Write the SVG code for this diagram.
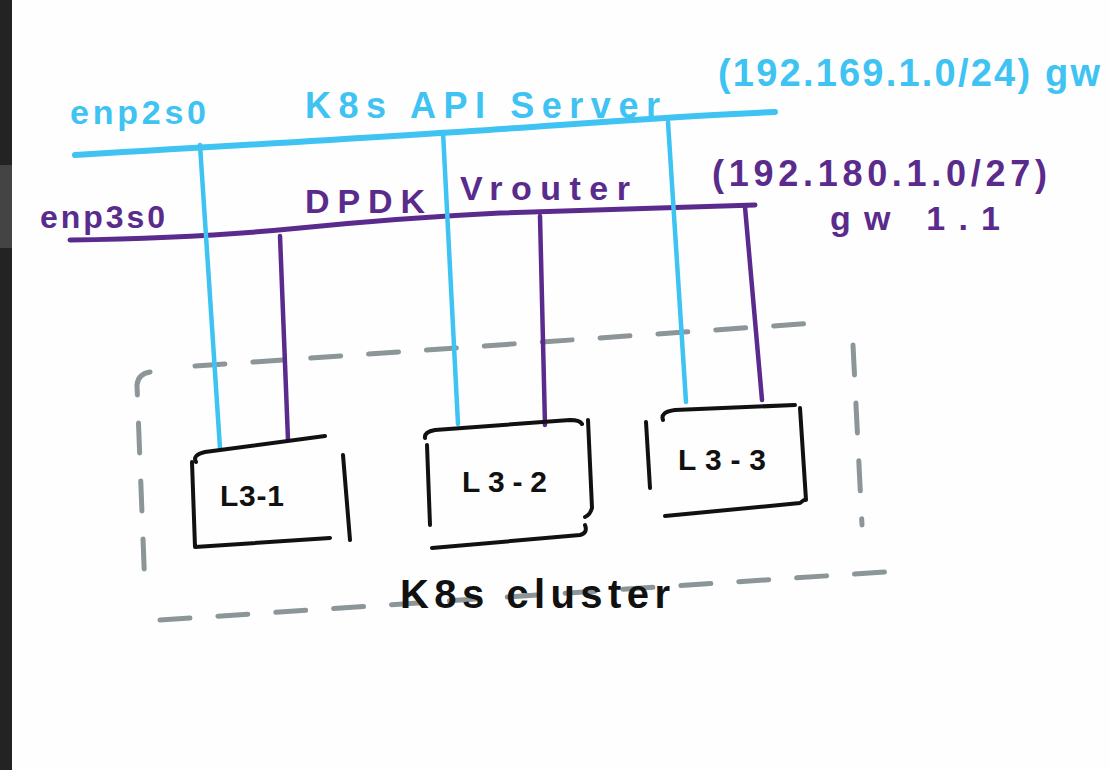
<svg xmlns="http://www.w3.org/2000/svg" width="1110" height="770" viewBox="0 0 1110 770">
<style>
.cy{stroke:#3ec3f2;fill:none;stroke-linecap:round;stroke-linejoin:round}
.pu{stroke:#5a2b8c;fill:none;stroke-linecap:round;stroke-linejoin:round}
.bk{stroke:#111;fill:none;stroke-width:4;stroke-linecap:round;stroke-linejoin:round}
.dash{stroke:#8c9597;fill:none;stroke-width:5;stroke-linecap:round;stroke-dasharray:30 28}
.t{font-family:"Liberation Sans",Arial,sans-serif;font-weight:bold}
.tc{fill:#3ec3f2}
.tp{fill:#5a2b8c}
.tb{fill:#111}
</style>
<rect x="0" y="0" width="1110" height="770" fill="#fefefe"/>
<rect x="0" y="0" width="12" height="770" fill="#232323"/>
<rect x="0" y="165" width="12" height="83" fill="#444"/>

<g id="cluster">
<path class="dash" d="M150,372 Q138,374 137,385 L145,590"/>
<path class="dash" d="M195,366 L830,322"/>
<path class="dash" d="M853,345 L862,525"/>
<path class="dash" d="M160,620 L885,572"/>
<text class="t tb" x="400" y="608" font-size="40" textLength="270" lengthAdjust="spacing">K8s cluster</text>
</g>

<g id="api-bus">
<path class="cy" stroke-width="6" d="M75,155 Q420,135 560,125 T775,112"/>
<text class="t tc" x="70" y="124" font-size="34" textLength="136" lengthAdjust="spacing">enp2s0</text>
<text class="t tc" x="305" y="118" font-size="36" textLength="355" lengthAdjust="spacing">K8s API Server</text>
<text class="t tc" x="718" y="86" font-size="38" textLength="382" lengthAdjust="spacing">(192.169.1.0/24) gw</text>
</g>

<g id="dpdk-bus">
<path class="pu" stroke-width="5" d="M70,240 Q200,238 300,228 T500,213 L755,205"/>
<text class="t tp" x="40" y="228" font-size="32" textLength="125" lengthAdjust="spacing">enp3s0</text>
<text class="t tp" x="305" y="213" font-size="34" textLength="120" lengthAdjust="spacing">DPDK</text>
<text class="t tp" x="460" y="200" font-size="34" textLength="170" lengthAdjust="spacing">Vrouter</text>
<text class="t tp" x="712" y="186" font-size="36" textLength="335" lengthAdjust="spacing">(192.180.1.0/27)</text>
<text class="t tp" x="830" y="230" font-size="34" textLength="170" lengthAdjust="spacing">gw 1.1</text>
</g>

<g id="connectors">
<path class="cy" stroke-width="4.5" d="M200,145 L220,448"/>
<path class="cy" stroke-width="4.5" d="M443,132 L458,424"/>
<path class="cy" stroke-width="4.5" d="M668,122 L686,402"/>
<path class="pu" stroke-width="4.5" d="M280,236 L288,440"/>
<path class="pu" stroke-width="4.5" d="M540,216 L545,425"/>
<path class="pu" stroke-width="4.5" d="M745,207 L762,400"/>
</g>

<g id="L3-1">
<path class="bk" d="M196,462 Q192,455 205,452 L325,436"/>
<path class="bk" d="M192,462 L195,547 L330,538"/>
<path class="bk" d="M343,455 L350,540"/>
<text class="t tb" x="220" y="506" font-size="30" textLength="64" lengthAdjust="spacing">L3-1</text>
</g>

<g id="L3-2">
<path class="bk" d="M425,438 Q424,432 435,430 L570,420 Q580,420 582,424"/>
<path class="bk" d="M427,445 L430,525"/>
<path class="bk" d="M588,420 L592,508 Q590,515 585,517"/>
<path class="bk" d="M432,548 L580,535 Q588,533 585,525"/>
<text class="t tb" x="462" y="492" font-size="30" textLength="85" lengthAdjust="spacing">L3-2</text>
</g>

<g id="L3-3">
<path class="bk" d="M663,420 Q660,412 675,410 L795,405"/>
<path class="bk" d="M646,422 L650,488"/>
<path class="bk" d="M800,408 L806,500"/>
<path class="bk" d="M665,516 L800,503 L804,500"/>
<text class="t tb" x="678" y="470" font-size="30" textLength="88" lengthAdjust="spacing">L3-3</text>
</g>
</svg>
